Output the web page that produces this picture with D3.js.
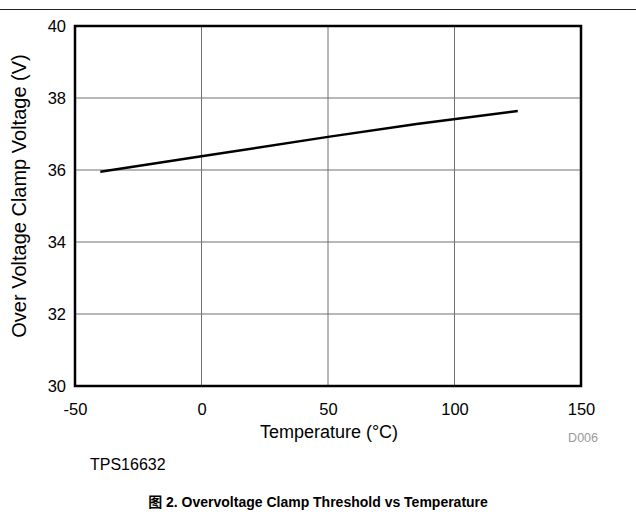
<!DOCTYPE html>
<html>
<head>
<meta charset="utf-8">
<script src="https://cdn.jsdelivr.net/npm/d3@7"></script>
<style>
  body { margin: 0; background: #fff; }
  text { font-family: "Liberation Sans", Arial, sans-serif; }
</style>
</head>
<body>
<svg id="chart" width="636" height="523"></svg>
<script>
// values
const tempC = [-40, 0, 50, 85, 125]
const clampV = [35.95, 36.38, 36.92, 37.28, 37.64]
const xTicks = [-50, 0, 50, 100, 150]
const yTicks = [30, 32, 34, 36, 38, 40]

const margin = {top: 26, left: 75}
const width = 506
const height = 360

const svg = d3.select('#chart')

// rule across the top of the page
svg.append('line')
  .attr('x1', 0).attr('x2', 636)
  .attr('y1', 9.5).attr('y2', 9.5)
  .attr('stroke', '#222')
  .attr('stroke-width', 1)

const chart = svg.append('g')
  .attr('transform', `translate(${margin.left}, ${margin.top})`)

const xScale = d3.scaleLinear().domain([-50, 150]).range([0, width])
const yScale = d3.scaleLinear().domain([30, 40]).range([height, 0])

// grid
chart.append('g')
  .selectAll('line')
  .data(xTicks.slice(1, -1))
  .join('line')
  .attr('x1', d => xScale(d)).attr('x2', d => xScale(d))
  .attr('y1', 0).attr('y2', height)
  .attr('stroke', '#707070')
  .attr('stroke-width', 1)

chart.append('g')
  .selectAll('line')
  .data(yTicks.slice(1, -1))
  .join('line')
  .attr('x1', 0).attr('x2', width)
  .attr('y1', d => yScale(d)).attr('y2', d => yScale(d))
  .attr('stroke', '#707070')
  .attr('stroke-width', 1)

// axes (labels only, the frame is drawn below)
const xAxis = chart.append('g')
  .attr('transform', `translate(0, ${height})`)
  .call(d3.axisBottom(xScale).tickValues(xTicks).tickFormat(d => String(d)).tickSize(0).tickPadding(17))
xAxis.select('.domain').remove()
xAxis.attr('font-size', null).attr('font-family', null)
xAxis.selectAll('text').attr('font-size', 16.5).attr('fill', '#000')

const yAxis = chart.append('g')
  .call(d3.axisLeft(yScale).tickValues(yTicks).tickFormat(d => String(d)).tickSize(0).tickPadding(9))
yAxis.select('.domain').remove()
yAxis.attr('font-size', null).attr('font-family', null)
yAxis.selectAll('text').attr('font-size', 16.5).attr('fill', '#000')

// frame
chart.append('rect')
  .attr('width', width)
  .attr('height', height)
  .attr('fill', 'none')
  .attr('stroke', '#000')
  .attr('stroke-width', 2.5)

chart.append('path')
  .datum(tempC.map((t, i) => ({t: t, v: clampV[i]})))
  .attr('fill', 'none')
  .attr('stroke', '#000')
  .attr('stroke-width', 2.5)
  .attr('d', d3.line()
    .x(d => xScale(d.t))
    .y(d => yScale(d.v))
  )

// titles
svg.append('text')
  .attr('x', 329)
  .attr('y', 438)
  .attr('text-anchor', 'middle')
  .attr('font-size', 18)
  .text('Temperature (°C)')

svg.append('text')
  .attr('transform', `translate(26, 196) rotate(-90)`)
  .attr('text-anchor', 'middle')
  .attr('font-size', 20)
  .text('Over Voltage Clamp Voltage (V)')

svg.append('text')
  .attr('x', 598)
  .attr('y', 442)
  .attr('text-anchor', 'end')
  .attr('font-size', 12.5)
  .attr('fill', '#999')
  .text('D006')

svg.append('text')
  .attr('x', 90)
  .attr('y', 470)
  .attr('font-size', 16)
  .text('TPS16632')

svg.append('text')
  .attr('x', 318)
  .attr('y', 507)
  .attr('text-anchor', 'middle')
  .attr('font-size', 14)
  .attr('font-weight', 'bold')
  .style('font-family', '"Liberation Sans", Arial, "Noto Sans CJK SC", sans-serif')
  .text('图 2. Overvoltage Clamp Threshold vs Temperature')
</script>
</body>
</html>
